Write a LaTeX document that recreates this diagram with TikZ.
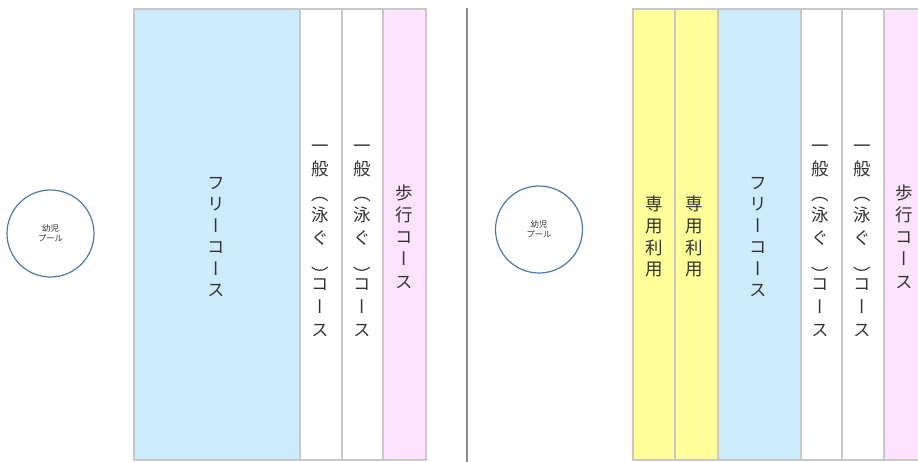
\documentclass[tikz,border=0pt]{standalone}
\usepackage{fontspec}
\newfontfamily\jp{Noto Sans CJK JP}
\newfontfamily\jpv[RawFeature=+vert]{Noto Sans CJK JP}
\definecolor{laneblue}{HTML}{CCEBFD}
\definecolor{lanepink}{HTML}{FDE3FD}
\definecolor{laneyellow}{HTML}{FFFF99}
\definecolor{laneline}{HTML}{C8C8C8}
\definecolor{poolline}{HTML}{4A7AB0}
\definecolor{txt}{HTML}{333333}
\setlength{\lineskiplimit}{-60pt}
\newcommand\vcol[1]{\rule{0pt}{0.88em}#1\rule[-0.12em]{0pt}{0.12em}}
\newcommand\vlp{\raisebox{-2pt}{︵}}
\newcommand\vrp{\raisebox{-14pt}{︶}}
\tikzset{
  lane/.style={draw=laneline, line width=1.3pt},
  vtext/.style={text=txt, align=center, inner sep=0pt,
    font={\jpv\fontsize{17.5}{#1}\selectfont}},
  vtext/.default=21.5,
  kidpool/.style={circle, draw=poolline, line width=1.2pt, minimum size=87pt, inner sep=0pt,
    text=txt, font={\jp\fontsize{8.3}{10}\selectfont}, align=center},
  divider/.style={draw=black!45, line width=1.1pt}
}
\begin{document}
\begin{tikzpicture}[x=1pt,y=-1pt]
\useasboundingbox (0,0) rectangle (918,462);
\clip (0,0) rectangle (918,462);
% ---------- left panel ----------
\path[lane, fill=laneblue] (134,9) rectangle (300,460);
\path[lane, fill=white] (300,9) rectangle (342,460);
\path[lane, fill=white] (342,9) rectangle (383,460);
\path[lane, fill=lanepink] (383,9) rectangle (426,460);
\node[vtext] (lfree) at (216.5,236.5) {\vcol{フ\\リ\\ー\\コ\\ー\\ス}};
\node[vtext=23] (lgen1) at (320.5,237.5) {\vcol{一\\般\\\vlp\\泳\\ぐ\\\vrp\\コ\\ー\\ス}};
\node[vtext=23] (lgen2) at (362,237.5) {\vcol{一\\般\\\vlp\\泳\\ぐ\\\vrp\\コ\\ー\\ス}};
\node[vtext=22.3] (lwalk) at (404,237) {\vcol{歩\\行\\コ\\ー\\ス}};
\node[kidpool] (lpool) at (50.5,233.5) {幼児\\プール};
% ---------- divider ----------
\coordinate (dtop) at (467,8);
\coordinate (dbot) at (467,462);
\draw[divider] (dtop) -- (dbot);
% ---------- right panel ----------
\path[lane, fill=laneyellow] (633,9) rectangle (675,460);
\path[lane, fill=laneyellow] (675,9) rectangle (718,460);
\path[lane, fill=laneblue] (718,9) rectangle (801,460);
\path[lane, fill=white] (801,9) rectangle (842,460);
\path[lane, fill=white] (842,9) rectangle (884,460);
\path[lane, fill=lanepink] (884,9) rectangle (930,460);
\node[vtext=21.7] (rsp1) at (654,236.5) {\vcol{専\\用\\利\\用}};
\node[vtext=21.7] (rsp2) at (694,236.5) {\vcol{専\\用\\利\\用}};
\node[vtext] (rfree) at (758.5,236.5) {\vcol{フ\\リ\\ー\\コ\\ー\\ス}};
\node[vtext=23] (rgen1) at (820.5,237.5) {\vcol{一\\般\\\vlp\\泳\\ぐ\\\vrp\\コ\\ー\\ス}};
\node[vtext=23] (rgen2) at (862,237.5) {\vcol{一\\般\\\vlp\\泳\\ぐ\\\vrp\\コ\\ー\\ス}};
\node[vtext=22.3] (rwalk) at (904.5,237) {\vcol{歩\\行\\コ\\ー\\ス}};
\node[kidpool] (rpool) at (539,229.5) {幼児\\プール};
\end{tikzpicture}
\end{document}
